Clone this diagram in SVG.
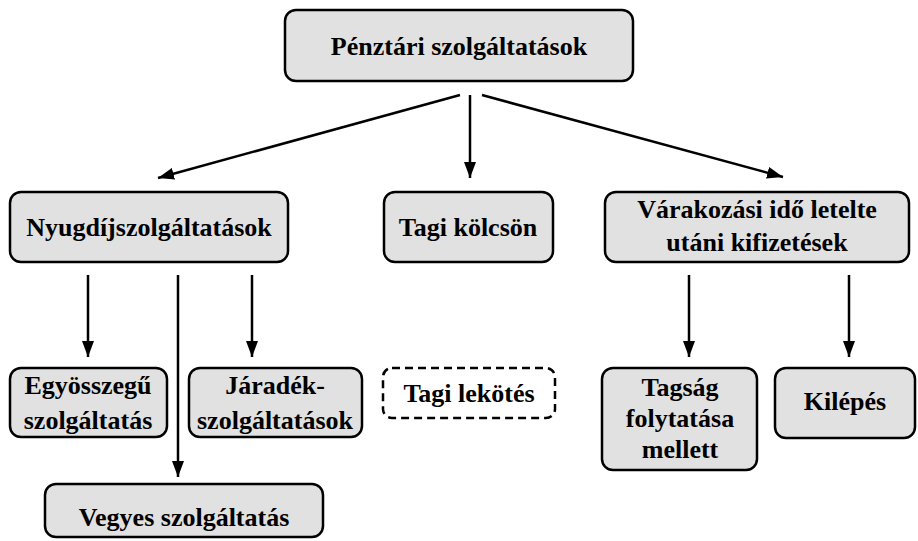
<svg xmlns="http://www.w3.org/2000/svg" width="918" height="541" viewBox="0 0 918 541">
<style>
.box{fill:#e1e1e1;stroke:#000;stroke-width:2.5}
.dash{fill:#fff;stroke:#000;stroke-width:2.5;stroke-dasharray:8 5}
text{font-family:"Liberation Serif","Times New Roman",serif;font-weight:700;font-size:26px;text-anchor:middle;fill:#000}
.c{stroke:#000;stroke-width:2.5;fill:none;marker-end:url(#ah)}
</style>
<defs>
<marker id="ah" viewBox="0 0 16 12" refX="16" refY="6" markerWidth="16" markerHeight="12" markerUnits="userSpaceOnUse" orient="auto">
<path d="M0,0 L16,6 L0,12 Z" fill="#000"/>
</marker>
</defs>
<g id="connectors">
<line class="c" x1="460" y1="95" x2="158" y2="178"/>
<line class="c" x1="470" y1="95" x2="470" y2="178"/>
<line class="c" x1="482" y1="95" x2="783" y2="177"/>
<line class="c" x1="88" y1="275" x2="88" y2="357"/>
<line class="c" x1="178" y1="275" x2="178" y2="477"/>
<line class="c" x1="252" y1="275" x2="252" y2="357"/>
<line class="c" x1="689" y1="275" x2="689" y2="357"/>
<line class="c" x1="849" y1="275" x2="849" y2="357"/>
</g>
<g id="penztari">
<rect class="box" x="285" y="10" width="348" height="71" rx="11"/>
<text x="459" y="55">Pénztári szolgáltatások</text>
</g>
<g id="nyugdij">
<rect class="box" x="10" y="192" width="278" height="70" rx="11"/>
<text x="149" y="236">Nyugdíjszolgáltatások</text>
</g>
<g id="tagikolcson">
<rect class="box" x="384" y="192" width="169" height="70" rx="11"/>
<text x="468" y="236">Tagi kölcsön</text>
</g>
<g id="varakozasi">
<rect class="box" x="605" y="192" width="304" height="70" rx="11"/>
<text x="757" y="218">Várakozási idő letelte</text>
<text x="757" y="251">utáni kifizetések</text>
</g>
<g id="egyosszegu">
<rect class="box" x="10" y="368" width="157" height="69" rx="11"/>
<text x="88" y="394">Egyösszegű</text>
<text x="88" y="429">szolgáltatás</text>
</g>
<g id="jaradek">
<rect class="box" x="189" y="368" width="173" height="69" rx="11"/>
<text x="275" y="394">Járadék-</text>
<text x="275" y="429">szolgáltatások</text>
</g>
<g id="tagilekotes">
<rect class="dash" x="383" y="368" width="172" height="50" rx="9"/>
<text x="469" y="402">Tagi lekötés</text>
</g>
<g id="tagsag">
<rect class="box" x="602" y="368" width="155" height="102" rx="11"/>
<text x="680" y="396">Tagság</text>
<text x="680" y="427">folytatása</text>
<text x="680" y="458">mellett</text>
</g>
<g id="kilepes">
<rect class="box" x="775" y="368" width="140" height="70" rx="11"/>
<text x="845" y="410">Kilépés</text>
</g>
<g id="vegyes">
<rect class="box" x="45" y="484" width="278" height="53" rx="11"/>
<text x="184" y="526">Vegyes szolgáltatás</text>
</g>
</svg>
